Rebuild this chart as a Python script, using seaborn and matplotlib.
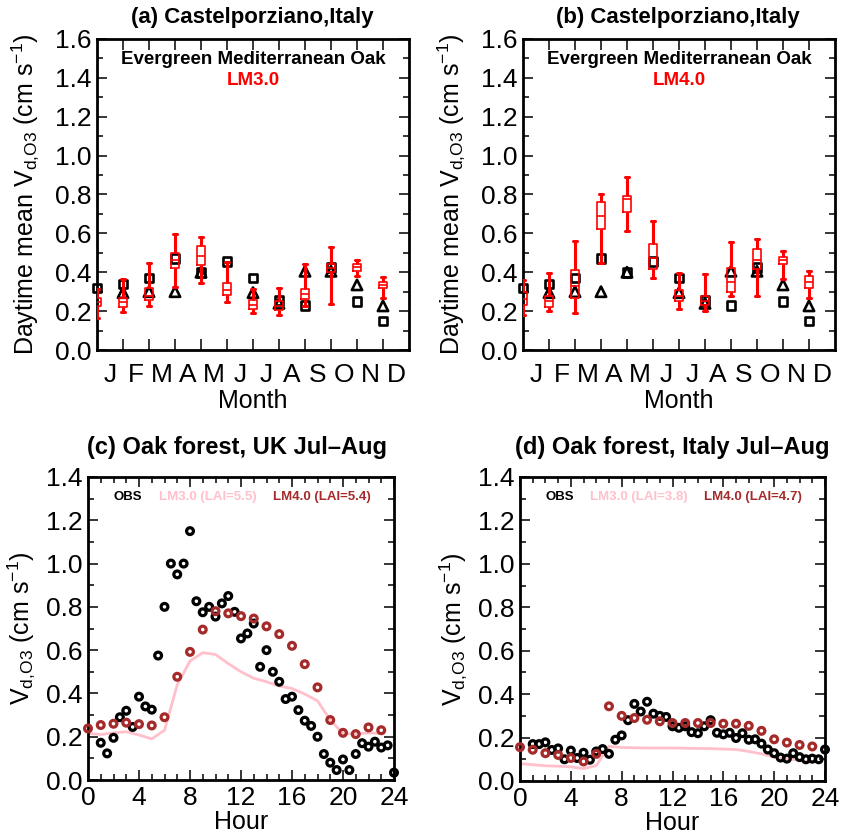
import numpy as np
import pandas as pd
import matplotlib
matplotlib.use("Agg")
import matplotlib.pyplot as plt
import seaborn as sns
from matplotlib.ticker import MultipleLocator, FixedLocator

# ---------------- data ----------------
months = ["J", "F", "M", "A", "M", "J", "J", "A", "S", "O", "N", "D"]
month_pos = list(range(12))

obs_square = [0.32, 0.34, 0.37, 0.47, 0.40, 0.455, 0.37, 0.255, 0.23, 0.425, 0.25, 0.15]
obs_triangle = [np.nan, 0.295, 0.30, 0.30, 0.40, np.nan, 0.295, 0.24, 0.405, 0.405, 0.335, 0.227]

# LM3.0 monthly distribution (whisker low, q1, median, q3, whisker high)
lm3_wlo = [0.167, 0.198, 0.227, 0.325, 0.347, 0.249, 0.192, 0.180, 0.227, 0.239, 0.381, 0.265]
lm3_q1 = [0.227, 0.222, 0.256, 0.424, 0.438, 0.283, 0.210, 0.204, 0.261, 0.400, 0.407, 0.318]
lm3_med = [0.247, 0.247, 0.278, 0.462, 0.485, 0.308, 0.232, 0.227, 0.287, 0.424, 0.428, 0.335]
lm3_q3 = [0.266, 0.270, 0.318, 0.497, 0.536, 0.347, 0.256, 0.253, 0.313, 0.445, 0.445, 0.350]
lm3_whi = [0.313, 0.364, 0.450, 0.598, 0.582, 0.454, 0.313, 0.318, 0.445, 0.531, 0.464, 0.376]

# LM4.0 monthly distribution
lm4_wlo = [0.18, 0.20, 0.19, 0.45, 0.61, 0.37, 0.21, 0.20, 0.28, 0.28, 0.365, 0.27]
lm4_q1 = [0.23, 0.22, 0.27, 0.62, 0.71, 0.415, 0.25, 0.23, 0.30, 0.415, 0.445, 0.32]
lm4_med = [0.26, 0.25, 0.33, 0.69, 0.775, 0.475, 0.28, 0.25, 0.35, 0.465, 0.465, 0.35]
lm4_q3 = [0.30, 0.28, 0.41, 0.76, 0.79, 0.546, 0.31, 0.28, 0.42, 0.52, 0.48, 0.38]
lm4_whi = [0.36, 0.395, 0.56, 0.80, 0.89, 0.665, 0.395, 0.39, 0.555, 0.57, 0.51, 0.405]

# Diurnal cycles
obs_hours = [1.0 + 0.5 * i for i in range(47)]
model_hours = list(range(24))

obs_uk = [0.172, 0.123, 0.195, 0.29, 0.32, 0.245, 0.385, 0.34, 0.325, 0.575,
          0.80, 1.00, 0.95, 1.00, 1.15, 0.826, 0.775, 0.80, 0.755, 0.816,
          0.85, 0.777, 0.654, 0.677, 0.723, 0.523, 0.60, 0.50, 0.454, 0.374,
          0.385, 0.323, 0.274, 0.25, 0.20, 0.12, 0.08, 0.046, 0.095, 0.046,
          0.12, 0.17, 0.154, 0.177, 0.15, 0.16, 0.034]
lm3_uk = [0.215, 0.21, 0.218, 0.223, 0.208, 0.19, 0.23, 0.44, 0.55, 0.588, 0.58, 0.538,
          0.50, 0.47, 0.454, 0.434, 0.423, 0.397, 0.366, 0.277, 0.215, 0.212, 0.218, 0.215]
lm4_uk = [0.238, 0.254, 0.26, 0.265, 0.258, 0.252, 0.29, 0.477, 0.592, 0.695, 0.78, 0.77,
          0.757, 0.746, 0.71, 0.674, 0.62, 0.535, 0.428, 0.277, 0.218, 0.212, 0.243, 0.23]

obs_it = [0.17, 0.17, 0.178, 0.143, 0.15, 0.10, 0.14, 0.106, 0.13, 0.098,
          0.136, 0.147, 0.125, 0.19, 0.21, 0.28, 0.355, 0.32, 0.365, 0.31,
          0.30, 0.295, 0.252, 0.245, 0.252, 0.225, 0.22, 0.252, 0.28, 0.222,
          0.215, 0.222, 0.198, 0.22, 0.19, 0.192, 0.172, 0.145, 0.128, 0.108,
          0.103, 0.128, 0.11, 0.10, 0.103, 0.10, 0.145]
lm3_it = [0.08, 0.075, 0.07, 0.068, 0.065, 0.057, 0.071, 0.16, 0.154, 0.153, 0.152, 0.152,
          0.152, 0.151, 0.15, 0.149, 0.147, 0.145, 0.136, 0.125, 0.11, 0.102, 0.096, 0.086]
lm4_it = [0.156, 0.144, 0.128, 0.12, 0.106, 0.09, 0.125, 0.344, 0.30, 0.29, 0.282, 0.275,
          0.267, 0.267, 0.267, 0.267, 0.264, 0.264, 0.254, 0.231, 0.192, 0.177, 0.166, 0.159]

# ---------------- style ----------------
sns.set_style("ticks")
plt.rcParams["font.family"] = ["Liberation Sans", "DejaVu Sans"]
plt.rcParams["mathtext.default"] = "regular"
for key in ("text.color", "axes.labelcolor", "xtick.color", "ytick.color", "axes.edgecolor"):
    plt.rcParams[key] = "black"
NARROW = ["Liberation Sans Narrow", "Liberation Sans", "DejaVu Sans"]

W, H = 841, 835
fig = plt.figure(figsize=(W / 100, H / 100), dpi=100)


def rect(l, t, r, b):
    return [l / W, 1 - b / H, (r - l) / W, (b - t) / H]


def style_axes(ax):
    for s in ax.spines.values():
        s.set_linewidth(2.0)
        s.set_color("black")
    ax.tick_params(which="both", direction="in", top=True, right=True,
                   width=1.1, colors="black", labelsize=19, pad=4)
    ax.tick_params(which="major", length=7)
    ax.tick_params(which="minor", length=4.5)


def box_df(wlo, q1, med, q3, whi):
    rows = []
    for i in range(12):
        for v in (wlo[i], q1[i], med[i], q3[i], whi[i]):
            rows.append({"pos": month_pos[i], "val": v})
    return pd.DataFrame(rows)


def monthly_panel(ax, boxes, model_name, title, cx):
    sns.scatterplot(x=month_pos, y=obs_square, marker="s", s=38, facecolor="none",
                    edgecolor="black", linewidth=1.9, ax=ax, clip_on=False, zorder=3)
    sns.scatterplot(x=month_pos, y=obs_triangle, marker="^", s=55, facecolor="none",
                    edgecolor="black", linewidth=1.9, ax=ax, clip_on=False, zorder=3)
    sns.boxplot(data=box_df(*boxes), x="pos", y="val", native_scale=True,
                whis=(0, 100), width=0.3, fill=False, color="red", linecolor="red",
                linewidth=1.2, showfliers=False, ax=ax,
                whiskerprops={"linewidth": 2.2}, capprops={"linewidth": 2.2},
                zorder=4)
    ax.set_xlim(0, 12)
    ax.set_ylim(0, 1.6)
    style_axes(ax)
    ax.xaxis.set_major_locator(FixedLocator([p + 0.5 for p in month_pos]))
    ax.xaxis.set_major_formatter(plt.FixedFormatter(months))
    ax.xaxis.set_minor_locator(FixedLocator(list(range(1, 12))))
    ax.tick_params(axis="x", which="major", length=0, pad=9)
    ax.tick_params(axis="x", which="minor", length=8)
    ax.yaxis.set_major_locator(MultipleLocator(0.2))
    ax.yaxis.set_minor_locator(MultipleLocator(0.1))
    ax.yaxis.set_major_formatter(plt.FormatStrFormatter("%.1f"))
    ax.set_xlabel("Month", fontsize=18, labelpad=2)
    ax.set_ylabel("Daytime mean V$_{d{,}O3}$ (cm s$^{-1}$)", fontsize=18, labelpad=10)
    ax.text(0.5, 0.935, "Evergreen Mediterranean Oak", transform=ax.transAxes,
            ha="center", va="center", fontsize=13.5, fontweight="bold", family=NARROW)
    ax.text(0.5, 0.865, model_name, transform=ax.transAxes, ha="center", va="center",
            fontsize=13.5, fontweight="bold", color="red", family=NARROW)
    fig.text(cx / W, 1 - 17 / H, title, ha="center", va="center", fontsize=16,
             fontweight="bold", family=NARROW)


def diurnal_panel(ax, obs, lm3, lm4, lai3, lai4, title, cx):
    sns.lineplot(x=model_hours, y=lm3, color="pink", linewidth=2.0, ax=ax, zorder=2)
    sns.scatterplot(x=obs_hours, y=obs, marker="o", s=24, facecolor="none",
                    edgecolor="black", linewidth=2.3, ax=ax, clip_on=False, zorder=3)
    sns.scatterplot(x=model_hours, y=lm4, marker="o", s=24, facecolor="none",
                    edgecolor="brown", linewidth=2.3, ax=ax, clip_on=False, zorder=4)
    ax.set_xlim(0, 24)
    ax.set_ylim(0, 1.4)
    style_axes(ax)
    ax.xaxis.set_major_locator(MultipleLocator(4))
    ax.xaxis.set_minor_locator(MultipleLocator(1))
    ax.yaxis.set_major_locator(MultipleLocator(0.2))
    ax.yaxis.set_minor_locator(MultipleLocator(0.1))
    ax.yaxis.set_major_formatter(plt.FormatStrFormatter("%.1f"))
    ax.set_xlabel("Hour", fontsize=18, labelpad=0)
    ax.set_ylabel("V$_{d{,}O3}$ (cm s$^{-1}$)", fontsize=18, labelpad=6)
    ax.text(0.13, 0.935, "OBS", transform=ax.transAxes, ha="center", va="center",
            fontsize=9.5, fontweight="bold", color="black")
    ax.text(0.39, 0.935, f"LM3.0 (LAI={lai3})", transform=ax.transAxes, ha="center",
            va="center", fontsize=9.5, fontweight="bold", color="pink")
    ax.text(0.765, 0.935, f"LM4.0 (LAI={lai4})", transform=ax.transAxes, ha="center",
            va="center", fontsize=9.5, fontweight="bold", color="brown")
    fig.text(cx / W, 1 - 447 / H, title, ha="center", va="center", fontsize=17,
             fontweight="bold", family=NARROW)


ax_a = fig.add_axes(rect(97, 39, 409, 350))
ax_b = fig.add_axes(rect(523, 39, 835, 350))
ax_c = fig.add_axes(rect(88, 477, 394, 780))
ax_d = fig.add_axes(rect(520, 477, 825, 781))

monthly_panel(ax_a, (lm3_wlo, lm3_q1, lm3_med, lm3_q3, lm3_whi), "LM3.0",
              "(a) Castelporziano,Italy", 252)
monthly_panel(ax_b, (lm4_wlo, lm4_q1, lm4_med, lm4_q3, lm4_whi), "LM4.0",
              "(b) Castelporziano,Italy", 678)
diurnal_panel(ax_c, obs_uk, lm3_uk, lm4_uk, "5.5", "5.4",
              "(c) Oak forest, UK Jul\u2013Aug", 237)
diurnal_panel(ax_d, obs_it, lm3_it, lm4_it, "3.8", "4.7",
              "(d) Oak forest, Italy Jul\u2013Aug", 672)

fig.savefig("out.png", dpi=100)
